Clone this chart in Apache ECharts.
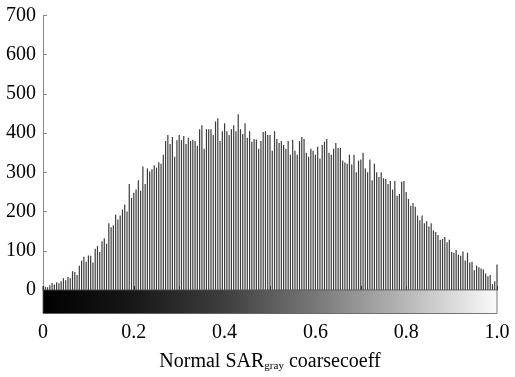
<!DOCTYPE html>
<html>
<head>
<meta charset="utf-8">
<script src="https://cdn.jsdelivr.net/npm/echarts@6/dist/echarts.min.js"></script>
<style>
html,body{margin:0;padding:0;background:#fff;}
#chart{width:515px;height:377px;}
</style>
</head>
<body>
<div id="chart"></div>
<script>
// Histogram bin counts, bins at 0, 0.005, ..., 1.0
var binCount = 200;
var counts = [
 10, 8, 7, 12, 18, 14, 20, 17, 22, 30,
 25, 33, 30, 48, 46, 38, 62, 75, 85, 72,
 88, 87, 70, 105, 112, 97, 124, 132, 118, 170,
 160, 165, 192, 180, 190, 205, 218, 200, 270, 235,
 248, 256, 280, 253, 315, 270, 310, 302, 308, 318,
 312, 326, 322, 345, 380, 395, 372, 390, 340, 382,
 395, 382, 393, 372, 388, 380, 383, 380, 368, 410,
 420, 360, 410, 410, 410, 395, 430, 438, 380, 405,
 425, 405, 395, 410, 420, 405, 448, 410, 398, 425,
 388, 405, 378, 385, 383, 360, 380, 403, 405, 395,
 395, 355, 405, 385, 375, 380, 370, 360, 380, 345,
 383, 355, 345, 380, 390, 385, 350, 340, 360, 355,
 345, 365, 335, 370, 378, 385, 350, 345, 360, 375,
 362, 362, 330, 325, 322, 345, 320, 345, 300, 330,
 333, 350, 310, 300, 333, 280, 322, 300, 288, 300,
 285, 283, 270, 278, 256, 278, 240, 245, 276, 278,
 250, 232, 215, 222, 212, 190, 178, 190, 170, 175,
 162, 170, 152, 148, 140, 128, 130, 135, 122, 128,
 97, 95, 102, 90, 87, 98, 75, 95, 70, 72,
 50, 62, 58, 55, 52, 42, 35, 38, 15, 22,
 65
];
var xLabels = ['0', '', '0.2', '', '0.4', '', '0.6', '', '0.8', '', '1.0'];
var yTicks = [0, 100, 200, 300, 400, 500, 600, 700];
var yMin = -60, yMax = 700;

var barData = counts.map(function (c, i) { return [i / binCount, c]; });

var chart = echarts.init(document.getElementById('chart'), null, {renderer: 'canvas'});
var font = '"Liberation Serif", "DejaVu Serif", serif';
chart.setOption({
  animation: false,
  backgroundColor: '#ffffff',
  grid: {left: 43, right: 18, top: 15.5, bottom: 61, containLabel: false},
  xAxis: {
    type: 'value', min: 0, max: 1, interval: 0.1,
    axisLine: {show: true, lineStyle: {color: '#888', width: 1}},
    axisTick: {show: true, inside: true, length: 4, lineStyle: {color: '#333'}},
    axisLabel: {
      color: '#000', fontFamily: font, fontSize: 20, margin: 9,
      formatter: function (v) {
        var k = Math.round(v * 10);
        return xLabels[k] !== undefined ? xLabels[k] : '';
      }
    },
    splitLine: {show: false},
    name: '{m|Normal SAR}{s|gray}{m| coarsecoeff}',
    nameLocation: 'middle', nameGap: 37,
    nameTextStyle: {
      color: '#000', fontFamily: font, fontSize: 20,
      rich: {
        m: {fontFamily: font, fontSize: 20, color: '#000', lineHeight: 22},
        s: {fontFamily: font, fontSize: 11, color: '#000', lineHeight: 22, padding: [10, 0, 0, 0]}
      }
    }
  },
  yAxis: {
    type: 'value', min: yMin, max: yMax,
    axisLine: {show: true, lineStyle: {color: '#888', width: 1}},
    axisTick: {show: true, inside: true, length: 4, customValues: yTicks, lineStyle: {color: '#888'}},
    axisLabel: {color: '#000', fontFamily: font, fontSize: 20, margin: 7, customValues: yTicks},
    splitLine: {show: false}
  },
  series: [{
    type: 'bar',
    data: barData,
    barWidth: 1.2,
    itemStyle: {color: '#3c3c3c'},
    silent: true,
    markArea: {
      silent: true,
      itemStyle: {
        color: {
          type: 'linear', x: 0, y: 0, x2: 1, y2: 0,
          colorStops: [
            {offset: 0, color: '#000000'},
            {offset: 0.2, color: '#181818'},
            {offset: 0.4, color: '#3e3e3e'},
            {offset: 0.6, color: '#787878'},
            {offset: 0.8, color: '#b8b8b8'},
            {offset: 1, color: '#fbfbfb'}
          ]
        },
        borderColor: '#555', borderWidth: 0.8
      },
      data: [[{xAxis: 0, yAxis: yMin}, {xAxis: 1, yAxis: 0}]]
    }
  }]
});
</script>
</body>
</html>
